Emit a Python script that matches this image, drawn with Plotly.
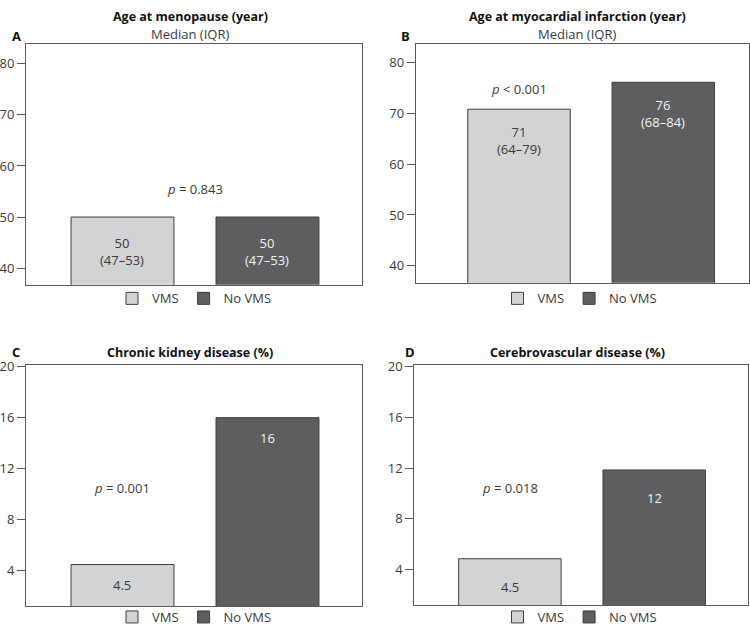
import plotly.graph_objects as go

# ---------------- data ----------------
groups = ["VMS", "No VMS"]
panel_letters = ["A", "B", "C", "D"]
panel_titles = ["Age at menopause (year)", "Age at myocardial infarction (year)",
                "Chronic kidney disease (%)", "Cerebrovascular disease (%)"]
panel_subtitles = ["Median (IQR)", "Median (IQR)", "", ""]
vms_values = [50, 70.8, 4.5, 4.85]
novms_values = [50, 76.1, 16, 11.85]
vms_labels = ["50<br>(47–53)", "71<br>(64–79)", "4.5", "4.5"]
novms_labels = ["50<br>(47–53)", "76<br>(68–84)", "16", "12"]
p_texts = ["<i>p</i> = 0.843", "<i>p</i> &lt; 0.001", "<i>p</i> = 0.001", "<i>p</i> = 0.018"]
p_x = [0.5, 0, 0, 0]
p_y = [55.5, 74.75, 10.48, 10.42]
tick_values = [[40, 50, 60, 70, 80], [40, 50, 60, 70, 80], [4, 8, 12, 16, 20], [4, 8, 12, 16, 20]]

# ---------------- layout / style ----------------
W, H = 750, 632
FONT = "Open Sans"
VMS_COLOR = "#d2d3d5"
NOVMS_COLOR = "#5d5e60"
EDGE = "#3e3e3e"
AXIS = "#5a5a5a"
TXT = "#3a3a3a"

# pixel boxes: left, right, top, bottom
boxes = [(26, 362, 37, 283), (415.7, 749, 36.7, 281), (26, 362, 365.3, 611.7), (414.3, 748, 365.3, 610.7)]
y_ranges = [[36.75, 83.83], [36.67, 83.65], [1.24, 20.11], [1.19, 20.11]]
x_ranges = [[-0.6655, 1.652], [-0.716, 1.594], [-0.6655, 1.652], [-0.6625, 1.65]]
title_pos = [(190, 9), (577, 9), (190, 352), (577, 352)]
subtitle_pos = [(190, 27), (577, 27), None, None]
letter_pos = [(16, 29), (405, 29), (16, 352), (410, 352)]
legend_pos = [(194.5, 297), (580, 297), (194.5, 623), (580, 623)]
label_shift = [-15, -11.5, -9, -17]

px = lambda x: x / W
py = lambda y: 1 - y / H

fig = go.Figure()
annotations = []
for i in range(4):
    n = "" if i == 0 else str(i + 1)
    xa, ya = "x" + n, "y" + n
    leg = "legend" + n
    for g, vals, col in ((groups[0], vms_values, VMS_COLOR), (groups[1], novms_values, NOVMS_COLOR)):
        fig.add_trace(go.Bar(
            x=[g], y=[vals[i]], name=g, xaxis=xa, yaxis=ya, legend=leg,
            width=0.71, marker=dict(color=col, line=dict(color=EDGE, width=1)),
            showlegend=True, hoverinfo="skip"))
    l, r, t, b = boxes[i]
    fig.update_layout(**{
        "xaxis" + n: dict(domain=[px(l), px(r)], anchor=ya, type="category",
                          range=x_ranges[i], showticklabels=False, ticks="",
                          showline=True, mirror=True, linecolor=AXIS, linewidth=1,
                          showgrid=False, zeroline=False, fixedrange=True),
        "yaxis" + n: dict(domain=[py(b), py(t)], anchor=xa, range=y_ranges[i],
                          tickvals=tick_values[i], ticks="outside", ticklen=8,
                          tickcolor=AXIS, tickwidth=1,
                          tickfont=dict(family=FONT, size=13, color=TXT),
                          showline=True, mirror=True, linecolor=AXIS, linewidth=1,
                          showgrid=False, zeroline=False, fixedrange=True),
        leg: dict(orientation="h", x=px(legend_pos[i][0]), y=py(legend_pos[i][1]),
                  xanchor="center", yanchor="middle", bgcolor="rgba(0,0,0,0)",
                  font=dict(family=FONT, size=13, color=TXT),
                  itemwidth=30, tracegroupgap=0, itemclick=False, itemdoubleclick=False),
    })
    # titles
    annotations.append(dict(text="<b>" + panel_titles[i] + "</b>", xref="paper", yref="paper",
                            x=px(title_pos[i][0]), y=py(title_pos[i][1]), xanchor="center",
                            yanchor="middle", showarrow=False,
                            font=dict(family=FONT, size=12.5, color="#111")))
    if panel_subtitles[i]:
        annotations.append(dict(text=panel_subtitles[i], xref="paper", yref="paper",
                                x=px(subtitle_pos[i][0]), y=py(subtitle_pos[i][1]),
                                xanchor="center", yanchor="middle", showarrow=False,
                                font=dict(family=FONT, size=13, color=TXT)))
    annotations.append(dict(text="<b>" + panel_letters[i] + "</b>", xref="paper", yref="paper",
                            x=px(letter_pos[i][0]), y=py(letter_pos[i][1]), xanchor="center",
                            yanchor="middle", showarrow=False,
                            font=dict(family=FONT, size=13, color="#111")))
    # p-value
    annotations.append(dict(text=p_texts[i], xref=xa, yref=ya, x=p_x[i], y=p_y[i],
                            xanchor="center", yanchor="middle", showarrow=False,
                            font=dict(family=FONT, size=13, color=TXT)))
    # bar labels
    for j, (labs, vals, fc) in enumerate(((vms_labels, vms_values, TXT),
                                          (novms_labels, novms_values, "#f2f2f2"))):
        annotations.append(dict(text=labs[i], xref=xa, yref=ya, x=j, y=vals[i],
                                xanchor="center", yanchor="top", yshift=label_shift[i],
                                showarrow=False, align="center",
                                font=dict(family=FONT, size=13, color=fc)))

fig.update_layout(width=W, height=H, margin=dict(l=0, r=0, t=0, b=0),
                  paper_bgcolor="white", plot_bgcolor="white", barmode="overlay",
                  annotations=annotations, font=dict(family=FONT), hovermode=False)
fig.write_html("out.html", config={"displayModeBar": False, "staticPlot": True},
               post_script="document.body.style.margin='0';document.body.style.overflow='hidden';")
